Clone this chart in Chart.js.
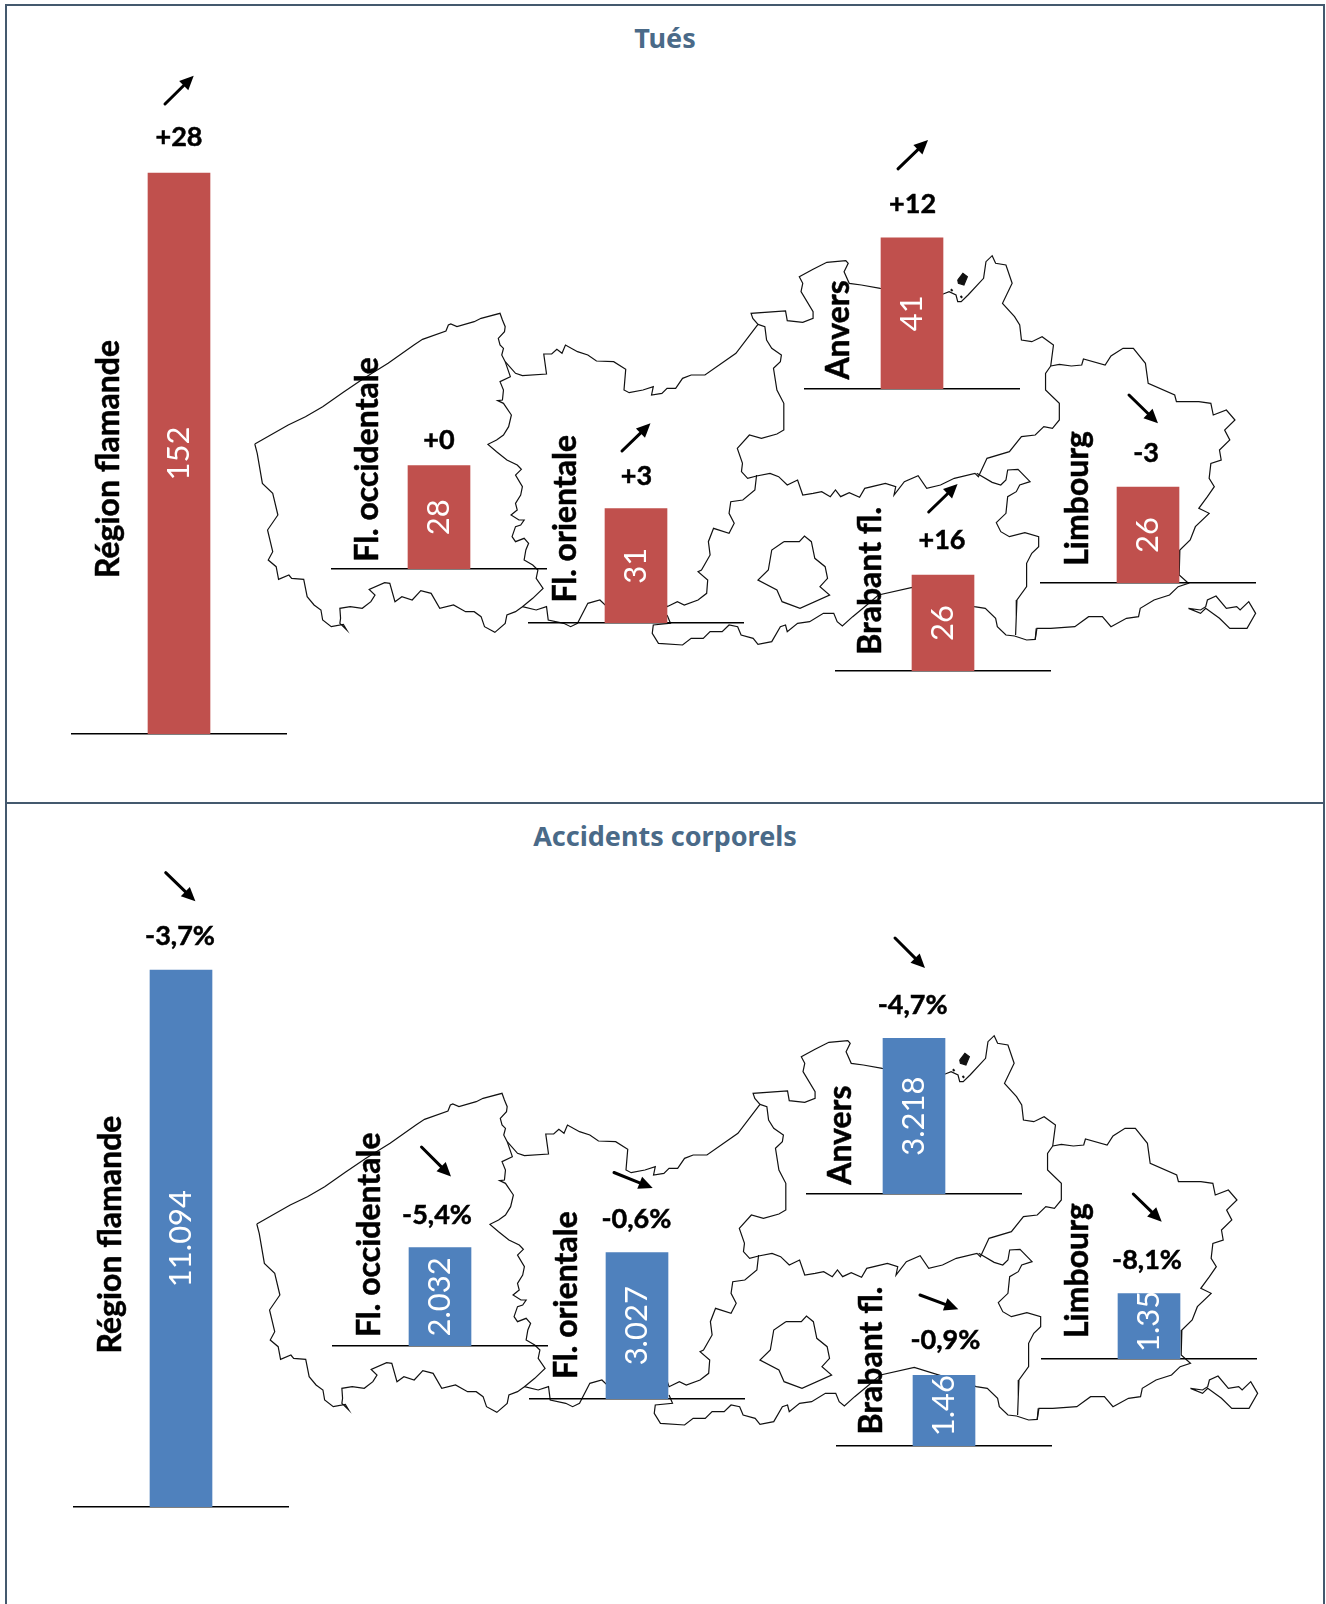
<!DOCTYPE html>
<html><head><meta charset="utf-8">
<script src="https://cdn.jsdelivr.net/npm/chart.js@4"></script>
<style>
html,body{margin:0;padding:0;background:#fff;width:1326px;height:1604px;overflow:hidden}
#page{position:relative;width:1326px;height:1604px}
canvas{position:absolute}
.frame{position:absolute;border:2px solid #44596e;box-sizing:border-box}
.title{position:absolute;left:0;width:1330px;text-align:center;font:bold 27px "Noto Sans";color:#4a6a88;line-height:32px}
</style></head><body><div id="page">
<div class="frame" style="left:5px;top:4px;width:1320px;height:800px"></div>
<div class="frame" style="left:5px;top:802px;width:1320px;height:810px"></div>
<div class="title" style="top:22px">Tués</div>
<div class="title" style="top:820px">Accidents corporels</div>
</div>
<script>
const regions = ['Région flamande','Fl. occidentale','Fl. orientale','Anvers','Brabant fl.','Limbourg'];
const tues = [152,28,31,41,26,26];
const tuesLabels = ['152','28','31','41','26','26'];
const tuesDelta = ['+28','+0','+3','+12','+16','-3'];
const accidents = [11094,2032,3027,3218,1460,1350];
const accidentsLabels = ['11.094','2.032','3.027','3.218','1.46','1.35'];
const accidentsDelta = ['-3,7%','-5,4%','-0,6%','-4,7%','-0,9%','-8,1%'];

// map outlines (map units)
const shift = pts => pts.map(p => [p[0]+1394, p[1]]);
const westFlanders = [[43,642],[140,585],[190,560],[240,530],[300,487],[360,445],[430,400],[505,345],[530,328],[598,303],[605,285],[612,282],[630,290],[680,275],[700,265],[755,250],[762,270],[770,290],[768,305],[750,325],[755,345],[765,355],[760,375],[770,395],[785,440],[755,455],[765,480],[762,510],[748,512],[765,520],[788,555],[780,590],[765,615],[745,630],[720,643],[745,665],[775,690],[805,705],[817,718],[800,735],[820,770],[815,795],[800,820],[805,840],[787,855],[810,870],[825,870],[815,885],[800,890],[790,920],[800,935],[825,925],[838,940],[830,960],[825,990],[850,1005],[865,1020],[860,1045],[880,1075],[850,1105],[820,1130],[800,1145],[775,1155],[770,1180],[740,1207],[710,1190],[700,1160],[680,1145],[655,1145],[620,1125],[580,1135],[555,1090],[525,1082],[500,1110],[470,1100],[450,1115],[435,1060],[420,1058],[375,1078],[392,1095],[380,1115],[355,1135],[320,1130],[290,1135],[292,1165],[290,1180],[310,1200],[300,1183],[265,1190],[240,1170],[235,1140],[215,1125],[195,1100],[185,1048],[150,1045],[142,1035],[112,1048],[105,1010],[82,990],[95,965],[80,900],[110,855],[95,790],[65,760],[50,670],[43,642]];
const eastNorth = [[770,395],[800,430],[820,437],[890,432],[882,372],[905,372],[920,358],[935,370],[945,345],[980,365],[1010,375],[1035,393],[1085,395],[1120,418],[1115,480],[1130,488],[1170,480],[1200,470],[1195,495],[1225,490],[1240,475],[1265,475],[1285,445],[1310,435],[1350,435],[1440,370],[1504,283]];
const eastBorder = shift([[110,283],[130,290],[135,330],[150,355],[178,375],[175,395],[155,415],[165,480],[185,520],[185,600],[165,612],[120,625],[85,615],[50,655],[65,700],[62,725],[80,745],[106,738]]);
const eastSouth = [[1500,735],[1495,780],[1460,810],[1425,815],[1420,850],[1435,880],[1420,910],[1375,895],[1360,935],[1365,975],[1340,1020],[1330,1025],[1358,1050],[1355,1090],[1330,1110],[1290,1125],[1270,1115],[1240,1130],[1235,1115],[1060,1125],[1045,1110],[1010,1120],[980,1180],[960,1190],[940,1180],[895,1170],[890,1130],[860,1140],[820,1130]];
const brabantSouth = [[1240,1155],[1250,1180],[1200,1185],[1197,1210],[1215,1240],[1285,1245],[1310,1225],[1345,1225],[1365,1205],[1400,1205],[1420,1185],[1445,1190],[1455,1215],[1490,1225],[1504,1243]].concat(shift([[150,1235],[175,1190],[190,1185],[195,1205],[225,1180],[260,1175],[300,1150],[330,1150],[340,1175],[355,1188],[385,1160],[420,1130],[460,1095],[558,1072],[738,1130],[770,1135],[800,1165],[805,1190],[830,1215],[855,1218],[890,1230],[915,1228],[918,1195]]));
const antwerpSouth = shift([[106,738],[145,730],[170,740],[195,765],[225,750],[240,795],[270,790],[295,785],[320,800],[335,780],[350,800],[375,788],[405,802],[420,775],[480,760],[510,770],[505,795],[535,755],[575,737],[600,775],[640,765],[680,745],[740,730],[750,740],[775,685],[840,665],[875,620],[915,615],[940,590],[965,595],[985,570],[985,520],[945,480],[945,430],[960,408]]);
const antwerpNorth = shift([[960,408],[968,345],[935,320],[905,335],[875,330],[870,285],[855,260],[820,220],[848,160],[830,105],[800,100],[790,77],[772,95],[765,145],[720,195],[700,215],[690,215],[685,195],[665,185],[648,192],[465,175],[410,165],[375,160],[360,125],[372,100],[365,92],[310,97],[270,118],[230,140],[240,160],[235,185],[270,245],[270,265],[240,277],[195,272],[190,243],[90,250],[95,265],[110,283]]);
const baarle = shift([[690,150],[705,130],[718,140],[708,165],[692,160],[690,150]]);
const baarleDotA = shift([[670,178],[675,183]]);
const baarleDotB = shift([[698,198],[703,203]]);
const brabantEast = shift([[745,730],[790,757],[815,765],[830,750],[835,720],[865,718],[900,755],[870,765],[860,785],[835,800],[830,850],[802,878],[815,905],[840,920],[885,908],[925,920],[925,950],[905,970],[890,1000],[890,1070],[862,1110],[860,1160],[858,1215]]);
const limburg = shift([[960,408],[985,403],[1020,408],[1050,405],[1055,387],[1118,405],[1135,378],[1170,355],[1200,355],[1235,400],[1243,460],[1320,495],[1325,515],[1390,515],[1425,520],[1432,555],[1470,540],[1495,570],[1465,600],[1480,630],[1450,660],[1455,690],[1425,700],[1420,745],[1435,770],[1415,800],[1390,835],[1420,850],[1380,890],[1365,930],[1335,960],[1333,1035],[1360,1060],[1330,1070],[1305,1095],[1260,1110],[1220,1135],[1215,1160],[1180,1165],[1135,1190],[1110,1160],[1070,1160],[1030,1190],[960,1195],[920,1195],[915,1228]]);
const voeren = shift([[1360,1135],[1395,1140],[1410,1130],[1415,1110],[1440,1098],[1470,1135],[1500,1130],[1510,1140],[1535,1115],[1555,1150],[1530,1195],[1480,1195],[1450,1165],[1410,1135],[1395,1150],[1360,1135]]);
const brussels = shift([[185,935],[230,935],[245,918],[265,935],[275,985],[305,1010],[312,1045],[290,1070],[318,1095],[232,1135],[180,1115],[165,1080],[110,1050],[140,1020],[150,960],[185,935]]);
const mapOutlines = [westFlanders,eastNorth,eastBorder,eastSouth,brabantSouth,antwerpSouth,antwerpNorth,baarle,baarleDotA,baarleDotB,brabantEast,limburg,voeren,brussels];

// page layout
const page = document.getElementById('page');
function addCanvas(l,t,w,h){const c=document.createElement('canvas');c.width=w;c.height=h;c.style.left=l+'px';c.style.top=t+'px';c.style.width=w+'px';c.style.height=h+'px';page.appendChild(c);return c;}

function drawMap(left,top){
  const W=1086,H=440;
  new Chart(addCanvas(left,top,W,H),{type:'scatter',
    data:{datasets:mapOutlines.map(o=>({data:o.map(p=>({x:p[0],y:p[1]})),showLine:true,borderColor:'#111',borderWidth:(o===baarleDotA||o===baarleDotB)?2:1.2,pointRadius:0,tension:0,fill:o===baarle?'shape':false,backgroundColor:'#111'}))},
    options:{responsive:false,animation:false,events:[],layout:{padding:0},
      plugins:{legend:{display:false},tooltip:{enabled:false}},
      scales:{x:{type:'linear',display:false,min:0,max:W/0.3444},y:{type:'linear',display:false,reverse:true,min:0,max:H*3}}}});
}
drawMap(240,230);
drawMap(242,1009.5);

const FONT='Lato';
const panels=[
 {values:tues,labels:tuesLabels,deltas:tuesDelta,color:'#C0504D',top:6,pxPerUnit:3.69,
  cx:[179,439,636,912,943,1148],base:[733.6,569.3,623,389.3,671,583],
  labelX:[109,368,565.5,838.5,870.5,1077.5],labelY:[578,561.7,602.6,379.6,654.8,565.8],
  deltaXY:[[179,137],[439,440.5],[636.5,476.5],[912.6,204],[942,540.5],[1146,453.5]],
  arrows:[[165,104,193.7,75.7],null,[622,451,650.5,423.3],[898,168.8,928,140],[928.7,512,957.6,484],[1129,395,1158,423.3]],
  shift:[0,0,0,0,0,0]},
 {values:accidents,labels:accidentsLabels,deltas:accidentsDelta,color:'#4F81BD',top:806,pxPerUnit:0.0484,
  cx:[181,440,637,914,944,1149],base:[1507.3,1346,1398.6,1194,1446,1359.3],
  labelX:[111,370,566.5,840.5,871.5,1077.5],labelY:[1353.6,1337,1379,1184.8,1434.4,1338],
  deltaXY:[[180,936.5],[437,1215],[636.4,1219],[912.6,1005],[945.4,1340.5],[1147,1260]],
  arrows:[[165.7,872.7,195.4,901.3],[421.5,1147,451,1176.6],[614,1172.5,652.7,1188],[895,938,925,968],[920,1295,958.3,1309.3],[1133.3,1194,1161.7,1221.7]],
  shift:[0,0,0,0,-5,-5]}
];

const W=216;
panels.forEach(p=>{
  regions.forEach((name,i)=>{
    const left=Math.round(p.cx[i]-W/2), pad=3;
    const h=Math.round(p.base[i]-p.top)+pad;
    const plotH=h-pad;
    const annot={id:'annot',afterDatasetsDraw(chart){
      const ctx=chart.ctx, bar=chart.getDatasetMeta(0).data[0];
      ctx.save();
      // value in bar
      ctx.save();ctx.translate(bar.x,(bar.y+bar.base)/2+p.shift[i]);ctx.rotate(-Math.PI/2);
      ctx.fillStyle='#fff';ctx.font='400 31px '+FONT;ctx.textAlign='center';ctx.textBaseline='middle';
      ctx.fillText(p.labels[i],0,0);ctx.restore();
      // category
      ctx.save();ctx.translate(p.labelX[i]-left,p.labelY[i]-p.top);ctx.rotate(-Math.PI/2);
      ctx.fillStyle='#000';ctx.strokeStyle='#000';ctx.lineWidth=0.5;ctx.font='700 32px '+FONT;ctx.textAlign='left';ctx.textBaseline='middle';
      ctx.fillText(name,0,0);ctx.strokeText(name,0,0);ctx.restore();
      // delta
      ctx.fillStyle='#000';ctx.strokeStyle='#000';ctx.lineWidth=0.5;ctx.font='700 27px '+FONT;ctx.textAlign='center';ctx.textBaseline='middle';
      ctx.fillText(p.deltas[i],p.deltaXY[i][0]-left,p.deltaXY[i][1]-p.top);
      ctx.strokeText(p.deltas[i],p.deltaXY[i][0]-left,p.deltaXY[i][1]-p.top);
      // arrow
      const a=p.arrows[i];
      if(a){
        const x1=a[0]-left,y1=a[1]-p.top,x2=a[2]-left,y2=a[3]-p.top,t=Math.atan2(y2-y1,x2-x1),L=14,Wd=6.5;
        const bx=x2-L*Math.cos(t),by=y2-L*Math.sin(t);
        ctx.strokeStyle='#000';ctx.lineWidth=3;ctx.lineCap='round';
        ctx.beginPath();ctx.moveTo(x1,y1);ctx.lineTo(bx,by);ctx.stroke();
        ctx.fillStyle='#000';ctx.beginPath();ctx.moveTo(x2,y2);
        ctx.lineTo(bx-Wd*Math.sin(t),by+Wd*Math.cos(t));
        ctx.lineTo(bx+Wd*Math.sin(t),by-Wd*Math.cos(t));ctx.closePath();ctx.fill();
      }
      ctx.restore();
    }};
    new Chart(addCanvas(left,p.top,W,h),{type:'bar',
      data:{labels:[name],datasets:[{data:[p.values[i]],backgroundColor:p.color,barThickness:62,borderWidth:0}]},
      options:{responsive:false,animation:false,events:[],layout:{padding:{left:0,right:0,top:0,bottom:pad}},
        plugins:{legend:{display:false},tooltip:{enabled:false}},
        scales:{
          x:{grid:{display:false},ticks:{display:false},border:{display:true,color:'#000',width:1.5},afterFit(s){s.height=0;}},
          y:{display:false,min:0,max:plotH/p.pxPerUnit}}},
      plugins:[annot]});
  });
});
</script></body></html>
